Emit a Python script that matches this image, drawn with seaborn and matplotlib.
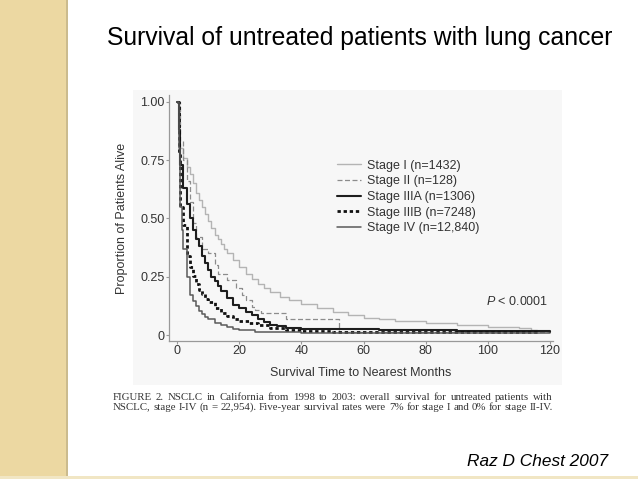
import numpy as np
import pandas as pd
import matplotlib
matplotlib.use("Agg")
import matplotlib.pyplot as plt
from matplotlib.patches import Rectangle
import seaborn as sns

# Kaplan-Meier estimates (months, proportion alive)
stage1_months = [0, 0.5, 1, 2, 3, 4, 5, 6, 7, 8, 9, 10, 11, 12, 13, 14, 15, 16, 18, 20, 22, 24, 26,
                 28, 30, 33, 36, 40, 45, 50, 55, 60, 65, 70, 80, 90, 100, 110, 114, 116]
stage1_surv = [1.0, 0.82, 0.8, 0.76, 0.72, 0.69, 0.65, 0.61, 0.58, 0.55, 0.52, 0.49, 0.46, 0.43,
               0.41, 0.39, 0.37, 0.35, 0.32, 0.29, 0.26, 0.24, 0.22, 0.2, 0.185, 0.165, 0.15, 0.135,
               0.115, 0.098, 0.085, 0.075, 0.068, 0.06, 0.05, 0.042, 0.035, 0.028, 0.02, 0.017]

stage2_months = [0, 1, 2, 3, 4, 5, 6, 8, 10, 12, 13, 16, 19, 21, 22, 24, 25, 27, 35, 52, 120]
stage2_surv = [1.0, 0.83, 0.75, 0.66, 0.57, 0.48, 0.42, 0.37, 0.35, 0.3, 0.26, 0.235, 0.2, 0.17,
               0.15, 0.12, 0.107, 0.095, 0.068, 0.014, 0.014]

stage3a_months = [0, 0.5, 1, 2, 3, 4, 5, 6, 7, 8, 9, 10, 11, 12, 13, 14, 16, 18, 20, 22, 24, 26,
                  28, 30, 32, 35, 40, 50, 65, 90, 120]
stage3a_surv = [1.0, 0.88, 0.73, 0.63, 0.56, 0.5, 0.45, 0.41, 0.38, 0.34, 0.31, 0.28, 0.25, 0.23,
                0.21, 0.19, 0.16, 0.13, 0.115, 0.1, 0.085, 0.068, 0.055, 0.044, 0.037, 0.03, 0.027,
                0.025, 0.022, 0.018, 0.015]

stage3b_months = [0, 0.5, 1, 2, 3, 4, 5, 6, 7, 8, 9, 10, 12, 14, 16, 18, 20, 23, 26, 30, 35, 40,
                  50, 70, 116]
stage3b_surv = [1.0, 0.78, 0.55, 0.47, 0.34, 0.29, 0.255, 0.22, 0.195, 0.175, 0.155, 0.14, 0.115,
                0.095, 0.08, 0.068, 0.058, 0.05, 0.042, 0.032, 0.022, 0.017, 0.014, 0.012, 0.008]

stage4_months = [0, 0.5, 1, 1.5, 2, 3, 4, 5, 6, 7, 8, 9, 10, 12, 14, 16, 18, 20, 25, 30, 40, 120]
stage4_surv = [1.0, 0.8, 0.55, 0.45, 0.37, 0.25, 0.17, 0.145, 0.125, 0.105, 0.09, 0.078, 0.068,
               0.053, 0.042, 0.033, 0.027, 0.022, 0.015, 0.012, 0.01, 0.009]

stage_labels = ["Stage I (n=1432)", "Stage II (n=128)", "Stage IIIA (n=1306)",
                "Stage IIIB (n=7248)", "Stage IV (n=12,840)"]
x_ticks = [0, 20, 40, 60, 80, 100, 120]
y_ticks = [0, 0.25, 0.5, 0.75, 1.0]
y_tick_labels = ["0", "0.25", "0.50", "0.75", "1.00"]

curves = [
    (stage1_months, stage1_surv, dict(color="#b4b4b4", lw=1.0, linestyle="-")),
    (stage2_months, stage2_surv, dict(color="#8c8c8c", lw=0.9, linestyle=(0, (4, 2)))),
    (stage3a_months, stage3a_surv, dict(color="#1e1e1e", lw=1.5, linestyle="-")),
    (stage3b_months, stage3b_surv, dict(color="#111111", lw=2.0, linestyle=(0, (1.2, 1.0)))),
    (stage4_months, stage4_surv, dict(color="#5a5a5a", lw=1.1, linestyle="-")),
]

caption1 = ("FIGURE 2. NSCLC in California from 1998 to 2003: overall survival for untreated "
            "patients with")
caption2 = ("NSCLC, stage I-IV (n = 22,954). Five-year survival rates were 7% for stage I and "
            "0% for stage II-IV.")

sns.set_theme(style="white")
plt.rcParams["font.family"] = ["Liberation Sans", "DejaVu Sans"]
plt.rcParams["mathtext.fontset"] = "custom"
plt.rcParams["mathtext.it"] = "Liberation Sans:italic"
plt.rcParams["mathtext.rm"] = "Liberation Sans"

W, H = 638, 479
fig = plt.figure(figsize=(W / 100, H / 100), dpi=100)
fig.patch.set_facecolor("white")


def justified_line(text, x0, x1, y, **kw):
    # spread the words of one caption line between x0 and x1 (pixels)
    renderer = fig.canvas.get_renderer()
    words = text.split()
    arts = [fig.text(0, 1 - y / H, w, ha="left", va="center", **kw) for w in words]
    widths = [a.get_window_extent(renderer).width for a in arts]
    gap = (x1 - x0 - sum(widths)) / (len(words) - 1)
    x = x0
    for a, w in zip(arts, widths):
        a.set_x(x / W)
        x += w + gap


# beige side strip and bottom edge of the slide
fig.patches.append(Rectangle((0, 0), 68 / W, 1, transform=fig.transFigure,
                             facecolor="#ecd8a2", edgecolor="none", zorder=-2))
fig.patches.append(Rectangle((66 / W, 0), 2 / W, 1, transform=fig.transFigure,
                             facecolor="#cbbb8e", edgecolor="none", zorder=-2))
fig.patches.append(Rectangle((0, 0), 1, 3 / H, transform=fig.transFigure,
                             facecolor="#f1e6c4", edgecolor="none", zorder=-2))
# faint grey background of the pasted figure
fig.patches.append(Rectangle((133 / W, 1 - 385 / H), (562 - 133) / W, (385 - 90) / H,
                             transform=fig.transFigure, facecolor="#f7f7f7",
                             edgecolor="none", zorder=-2))

ax = fig.add_axes([168.5 / W, 1 - 341 / H, (553 - 168.5) / W, (341 - 95) / H])
ax.set_zorder(5)
ax.set_facecolor("none")

for (months, surv, style), label in zip(curves, stage_labels):
    df = pd.DataFrame({"month": months, "surv": surv})
    sns.lineplot(data=df, x="month", y="surv", ax=ax, label=label,
                 drawstyle="steps-post", estimator=None, **style)

ax.set_xlim(-2.83, 121)
ax.set_ylim(-0.0257, 1.029)
ax.set_xticks(x_ticks)
ax.set_yticks(y_ticks)
ax.set_yticklabels(y_tick_labels)
ax.tick_params(axis="both", direction="out", length=2, width=0.8, color="#999999",
               labelsize=9, labelcolor="#333333", pad=1, left=True, bottom=True)

for side in ["top", "right"]:
    ax.spines[side].set_visible(False)
for side in ["left", "bottom"]:
    ax.spines[side].set_color("#999999")
    ax.spines[side].set_linewidth(0.9)

ax.set_xlabel("Survival Time to Nearest Months", fontsize=9, color="#333333")
ax.set_ylabel("Proportion of Patients Alive", fontsize=9, color="#333333")
ax.xaxis.set_label_coords(0.5, -0.106)
ax.yaxis.set_label_coords(-0.105, 0.5)

ax.legend(loc="upper left", bbox_to_anchor=(337 / W, 1 - 159.5 / H),
          bbox_transform=fig.transFigure, frameon=False, fontsize=9,
          handlelength=1.95, handletextpad=0.45, labelspacing=0.3, borderpad=0,
          borderaxespad=0, labelcolor="#333333")

ax.text(548 / W, 1 - 301.5 / H, r"$P$ < 0.0001", transform=fig.transFigure,
        ha="right", va="center", fontsize=9, color="#333333")

fig.text(107 / W, 1 - 38 / H, "Survival of untreated patients with lung cancer",
         ha="left", va="center", fontsize=17.8, color="black")

justified_line(caption1, 113, 553, 397, fontsize=7.8, family="Liberation Serif",
               color="#333333")
justified_line(caption2, 113, 553, 407, fontsize=7.8, family="Liberation Serif",
               color="#333333")

fig.text(608 / W, 1 - 461 / H, "Raz D Chest 2007", ha="right", va="center",
         fontsize=12.4, style="italic", color="black")

fig.savefig("out.png", dpi=100)
